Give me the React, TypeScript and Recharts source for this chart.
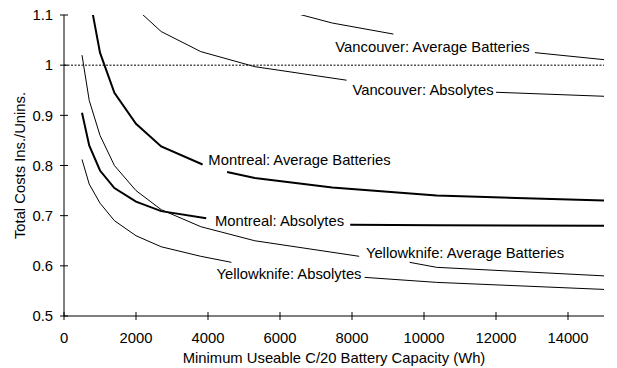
import React from "react";
import {
  LineChart,
  Line,
  XAxis,
  YAxis,
  ReferenceLine,
  ReferenceDot,
} from "recharts";

// values; null = gap where the curve label sits
const vancouverAvg = [
  { x: 5300, y: 1.125 },
  { x: 7450, y: 1.084 },
  { x: 9150, y: 1.062 },
  { x: 11000, y: null },
  { x: 13080, y: 1.025 },
  { x: 15000, y: 1.011 },
];

const vancouverAbs = [
  { x: 2000, y: 1.113 },
  { x: 2700, y: 1.067 },
  { x: 3800, y: 1.027 },
  { x: 5300, y: 0.997 },
  { x: 7850, y: 0.97 },
  { x: 10000, y: null },
  { x: 12000, y: 0.946 },
  { x: 15000, y: 0.938 },
];

const montrealAvg = [
  { x: 700, y: 1.14 },
  { x: 1000, y: 1.025 },
  { x: 1400, y: 0.945 },
  { x: 2000, y: 0.883 },
  { x: 2700, y: 0.838 },
  { x: 3850, y: 0.802 },
  { x: 4200, y: null },
  { x: 4530, y: 0.787 },
  { x: 5300, y: 0.775 },
  { x: 7450, y: 0.756 },
  { x: 10350, y: 0.74 },
  { x: 15000, y: 0.73 },
];

const montrealAbs = [
  { x: 500, y: 0.905 },
  { x: 700, y: 0.84 },
  { x: 1000, y: 0.79 },
  { x: 1400, y: 0.755 },
  { x: 2000, y: 0.728 },
  { x: 2700, y: 0.709 },
  { x: 3950, y: 0.695 },
  { x: 6000, y: null },
  { x: 7950, y: 0.682 },
  { x: 10350, y: 0.681 },
  { x: 15000, y: 0.68 },
];

const yellowknifeAvg = [
  { x: 500, y: 1.02 },
  { x: 700, y: 0.93 },
  { x: 1000, y: 0.86 },
  { x: 1400, y: 0.8 },
  { x: 2000, y: 0.75 },
  { x: 2700, y: 0.712 },
  { x: 3800, y: 0.678 },
  { x: 5300, y: 0.65 },
  { x: 8200, y: 0.619 },
  { x: 8900, y: null },
  { x: 9600, y: 0.607 },
  { x: 10350, y: 0.597 },
  { x: 15000, y: 0.58 },
];

const yellowknifeAbs = [
  { x: 500, y: 0.812 },
  { x: 700, y: 0.763 },
  { x: 1000, y: 0.725 },
  { x: 1400, y: 0.69 },
  { x: 2000, y: 0.66 },
  { x: 2700, y: 0.638 },
  { x: 3800, y: 0.619 },
  { x: 4650, y: 0.607 },
  { x: 6500, y: null },
  { x: 8350, y: 0.577 },
  { x: 10350, y: 0.567 },
  { x: 15000, y: 0.553 },
];

const curveLabels = [
  { text: "Vancouver: Average Batteries", x: 10236, y: 1.0374 },
  { text: "Vancouver: Absolytes", x: 9972, y: 0.951 },
  { text: "Montreal: Average Batteries", x: 6542, y: 0.8116 },
  { text: "Montreal: Absolytes", x: 5986, y: 0.6906 },
  { text: "Yellowknife: Average Batteries", x: 11139, y: 0.6268 },
  { text: "Yellowknife: Absolytes", x: 6250, y: 0.5838 },
];

const xTicks = [0, 2000, 4000, 6000, 8000, 10000, 12000, 14000];
const yTicks = [0.5, 0.6, 0.7, 0.8, 0.9, 1, 1.1];

const FONT = "'Liberation Sans', Arial, sans-serif";
const FS = 14.8;

const XTick = (props: any) => {
  const { x, y, payload } = props;
  const axisY = y - 16;
  return (
    <g>
      <line x1={x} x2={x} y1={axisY - 4} y2={axisY + 4} stroke="#000" />
      <text x={x} y={y} dy="0.71em" textAnchor="middle" fontSize={FS} fontFamily={FONT} fill="#000">
        {payload.value}
      </text>
    </g>
  );
};

const YTick = (props: any) => {
  const { x, y, payload } = props;
  const axisX = x + 11;
  return (
    <g>
      <line x1={axisX - 4} x2={axisX + 4} y1={y} y2={y} stroke="#000" />
      <text x={x} y={y} dy="0.355em" textAnchor="end" fontSize={FS} fontFamily={FONT} fill="#000">
        {String(payload.value)}
      </text>
    </g>
  );
};

export default function App() {
  const series = [
    { data: vancouverAvg, w: 1 },
    { data: vancouverAbs, w: 1 },
    { data: montrealAvg, w: 2 },
    { data: montrealAbs, w: 2 },
    { data: yellowknifeAvg, w: 1 },
    { data: yellowknifeAbs, w: 1 },
  ];

  return (
    <div style={{ position: "absolute", left: 0, top: 0, background: "#fff" }}>
      <LineChart width={617} height={368} margin={{ top: 15, right: 13, bottom: 0, left: 0 }}>
        <XAxis
          type="number"
          dataKey="x"
          domain={[0, 15000]}
          ticks={xTicks}
          allowDataOverflow
          height={52}
          tickSize={4}
          tickMargin={12}
          tickLine={false}
          tick={<XTick />}
          axisLine={{ stroke: "#000" }}
          label={{
            value: "Minimum Useable C/20 Battery Capacity (Wh)",
            position: "center",
            dy: 16,
            fill: "#000",
            fontSize: FS,
            fontFamily: FONT,
          }}
        />
        <YAxis
          type="number"
          domain={[0.5, 1.1]}
          ticks={yTicks}
          allowDataOverflow
          width={64}
          tickSize={4}
          tickMargin={7}
          tickLine={false}
          tick={<YTick />}
          axisLine={{ stroke: "#000" }}
          label={{
            value: "Total Costs Ins./Unins.",
            angle: -90,
            position: "center",
            dx: -12,
            fill: "#000",
            fontSize: FS,
            fontFamily: FONT,
          }}
        />
        <ReferenceLine y={1} stroke="#000" strokeDasharray="2 1.5" />
        {series.map((s, i) => (
          <Line
            key={i}
            data={s.data}
            dataKey="y"
            type="linear"
            stroke="#000"
            strokeWidth={s.w}
            dot={false}
            activeDot={false}
            isAnimationActive={false}
          />
        ))}
        {curveLabels.map((l) => (
          <ReferenceDot
            key={l.text}
            x={l.x}
            y={l.y}
            r={0}
            fill="none"
            stroke="none"
            label={{
              value: l.text,
              position: "center",
              fill: "#000",
              fontSize: FS,
              fontFamily: FONT,
            }}
          />
        ))}
      </LineChart>
    </div>
  );
}
